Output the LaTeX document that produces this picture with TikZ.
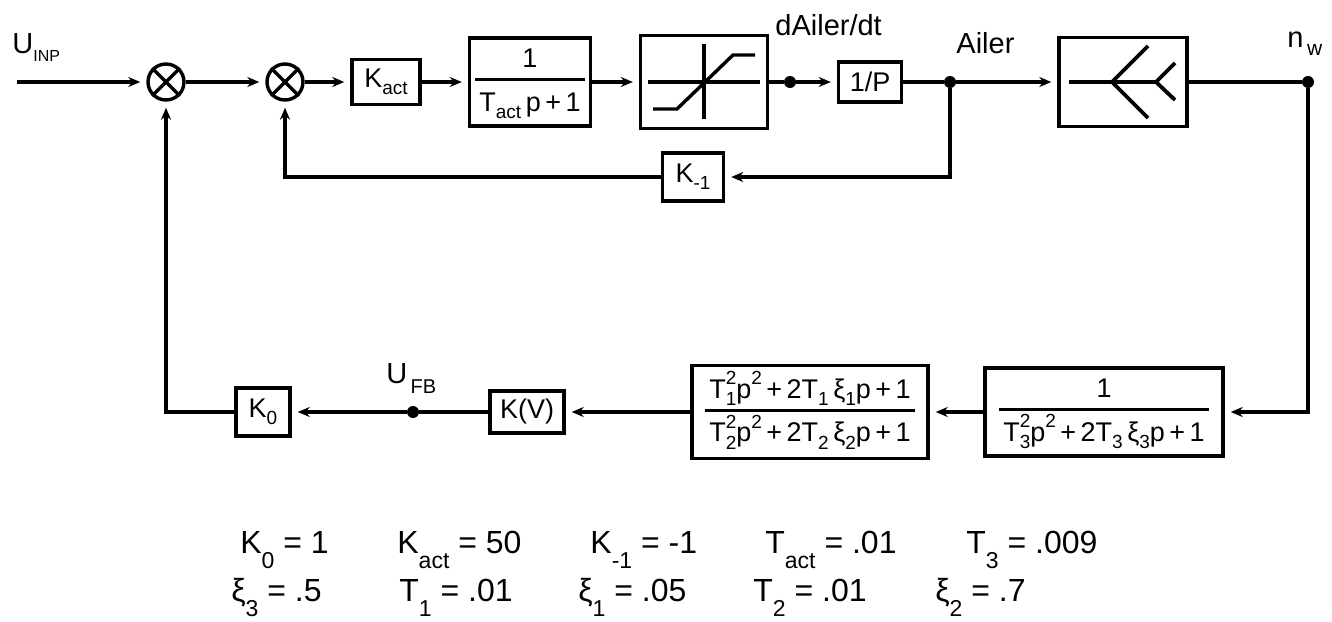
\documentclass[tikz,border=0pt]{standalone}
\usepackage{fontspec}
\setmainfont{Liberation Sans}
\usetikzlibrary{arrows.meta}

\newcommand{\boxfont}{\fontsize{13.5}{15}\selectfont}
\newcommand{\bsubfont}{\fontsize{9.5}{10}\selectfont}
\newcommand{\lblfont}{\fontsize{14.5}{17}\selectfont}
\newcommand{\parfont}{\fontsize{16}{19}\selectfont}
\newcommand{\psubfont}{\fontsize{11.5}{12}\selectfont}

\newcommand{\xii}{ξ}
\newcommand{\lowb}[1]{\raisebox{-0.5ex}{\bsubfont #1}}
\newcommand{\upb}[1]{\raisebox{0.95ex}{\bsubfont #1}}
\newcommand{\tsupsub}[2]{\makebox[0pt][l]{\raisebox{0.95ex}{\bsubfont #1}}\raisebox{-0.5ex}{\bsubfont #2}}
\newcommand{\lowp}[1]{\raisebox{-0.9ex}{\psubfont #1}}
\setlength{\arrayrulewidth}{1.5pt}
\newcommand{\blockfrac}[2]{{\setlength{\tabcolsep}{2pt}\renewcommand{\arraystretch}{1.2}%
\begin{tabular}{c}#1\\\hline\rule{0pt}{15pt}#2\end{tabular}}}

\tikzset{
  blk/.style={draw, line width=1.7pt, inner sep=2pt, font=\boxfont},
  summ/.style={draw, circle, line width=1.7pt, minimum size=18pt, inner sep=0pt},
  jdot/.style={circle, fill, inner sep=0pt, minimum size=6pt},
  wire/.style={line width=1.7pt},
  sig/.style={line width=1.7pt, -{Stealth[length=6pt,width=5pt]}, shorten >=3pt},
  lbl/.style={anchor=base west, inner sep=0pt, font=\lblfont},
  par/.style={anchor=base west, inner sep=0pt, font=\parfont}
}

\begin{document}
\begin{tikzpicture}[x=0.5pt, y=-0.5pt]

\useasboundingbox (0,0) rectangle (1332,621);

% Forward path
\coordinate (uin) at (17,82);
\node[summ] (s1) at (166,82) {};
\node[summ] (s2) at (285,82) {};
\node[blk, minimum width=34pt, minimum height=22.5pt] (kact) at (386,82) {K\lowb{act}};
\node[blk, minimum width=60.5pt, minimum height=43pt] (act) at (530,82) {\blockfrac{1}{T\lowb{act}\,p\,+\,1}};
\node[blk, minimum width=63.5pt, minimum height=46.5pt] (sat) at (704,82) {};
\node[jdot] (dail) at (790,82) {};
\node[blk, minimum width=31.5pt, minimum height=20pt] (integ) at (870,82) {1/P};
\node[jdot] (ail) at (950,82) {};
\node[blk, minimum width=64pt, minimum height=44.5pt] (wing) at (1123,82) {};
\node[jdot] (nw) at (1308,82) {};

% Inner loop
\node[blk, minimum width=30.5pt, minimum height=24pt] (km1) at (693,177) {K\lowb{-1}};

% Outer loop
\node[blk, minimum width=119pt, minimum height=42.5pt] (flex) at (1104,412)
  {\blockfrac{1}{T\tsupsub{2}{3}p\upb{2}\,+\,2T\lowb{3}\,\xii\lowb{3}p\,+\,1}};
\node[blk, minimum width=118pt, minimum height=46.5pt] (filt) at (810,412)
  {\blockfrac{T\tsupsub{2}{1}p\upb{2}\,+\,2T\lowb{1}\,\xii\lowb{1}p\,+\,1}{T\tsupsub{2}{2}p\upb{2}\,+\,2T\lowb{2}\,\xii\lowb{2}p\,+\,1}};
\node[blk, minimum width=37pt, minimum height=21pt] (kv) at (527,412) {K(V)};
\node[jdot] (ufb) at (413,412) {};
\node[blk, minimum width=27pt, minimum height=24pt] (k0) at (263,412) {K\lowb{0}};

% Crosses in the sums
\foreach \s in {s1,s2}{
  \draw[wire] (\s.north west) -- (\s.south east);
  \draw[wire] (\s.south west) -- (\s.north east);
}

% Saturation
\begin{scope}[shift={(sat.center)}]
\draw[wire] (-56,0) -- (56,0);
\draw[wire] (0,-38) -- (0,37);
\draw[wire] (-51,27) -- (-27,27) -- (29,-27) -- (51,-27);
\end{scope}

% Wing shape
\begin{scope}[shift={(wing.center)}, line width=1.9pt]
\draw (-54,0) -- (33,0);
\draw (25,-36) -- (-11,0) -- (25,36);
\draw (52,-19) -- (33,0) -- (52,18);
\end{scope}

% Connectors
\draw[sig] (uin) -- (s1);
\draw[sig] (s1) -- (s2);
\draw[sig] (s2) -- (kact);
\draw[sig] (kact) -- (act);
\draw[sig] (act) -- (sat);
\draw[wire] (sat) -- (dail);
\draw[sig] (dail) -- (integ);
\draw[wire] (integ) -- (ail);
\draw[sig] (ail) -- (wing);
\draw[wire] (wing) -- (nw);

\draw[sig] (ail) |- (km1);
\draw[sig] (km1) -| (s2);

\draw[sig] (nw) |- (flex);
\draw[sig] (flex) -- (filt);
\draw[sig] (filt) -- (kv);
\draw[wire] (kv) -- (ufb);
\draw[sig] (ufb) -- (k0);
\draw[sig] (k0) -| (s1);

% Labels
\node[lbl] (luinp) at (12,53) {U\raisebox{-4.5pt}{\fontsize{8}{8}\selectfont INP}};
\node[lbl] (ldail) at (775,35) {dAiler/dt};
\node[lbl] (lail) at (956,53) {Ailer};
\node[lbl] (lnw) at (1287,47) {n\raisebox{-4pt}{\fontsize{10.5}{11}\selectfont\,w}};
\node[lbl] (lufb) at (386,383) {U\raisebox{-5pt}{\fontsize{10}{11}\selectfont\,FB}};

% Parameters
\node[par] (p1) at (240,553) {K\lowp{0} = 1};
\node[par] (p2) at (397,553) {K\lowp{act} = 50};
\node[par] (p3) at (590,553) {K\lowp{-1} = -1};
\node[par] (p4) at (765,553) {T\lowp{act} = .01};
\node[par] (p5) at (966,553) {T\lowp{3} = .009};
\node[par] (p6) at (231,601) {\xii\lowp{3} = .5};
\node[par] (p7) at (399,601) {T\lowp{1} = .01};
\node[par] (p8) at (578,601) {\xii\lowp{1} = .05};
\node[par] (p9) at (753,601) {T\lowp{2} = .01};
\node[par] (p10) at (935,601) {\xii\lowp{2} = .7};

\end{tikzpicture}
\end{document}
